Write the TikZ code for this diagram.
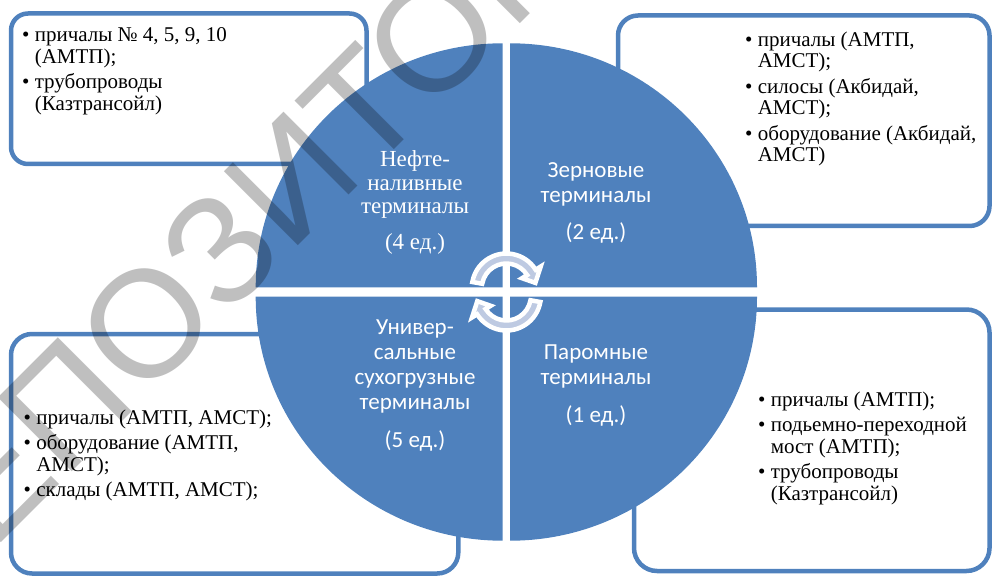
\documentclass[tikz,border=0pt]{standalone}
\usepackage{fontspec}
\setmainfont{Liberation Serif}
\newfontfamily\tnrfont{Liberation Serif}
\newfontfamily\calfont{Carlito}
\newfontfamily\wmfont{Liberation Sans}
\definecolor{qblue}{RGB}{79,129,189}
\definecolor{afill}{RGB}{190,202,226}
\newcommand\bitem{\rule{0pt}{17pt}\textbullet\ }
\newcommand\bcont{\hphantom{\textbullet\ }}
\begin{document}
\begin{tikzpicture}[x=1pt,y=-1pt,
  box/.style={draw=qblue, line width=4.5pt, rectangle, inner sep=0pt, outer sep=0pt},
  quad/.style={fill=qblue},
  carrow/.style={fill=afill, draw=white, line width=4.5pt, line join=miter},
  btext/.style={anchor=north west, align=left, inner sep=0pt, font=\tnrfont\fontsize{21}{21.5}\selectfont},
  qserif/.style={text=white, align=center, inner sep=0pt, font=\tnrfont\fontsize{23}{23.5}\selectfont},
  qsans/.style={text=white, align=center, inner sep=0pt, font=\calfont\fontsize{23}{25}\selectfont},
  wm/.style={text=black, text opacity=0.25, inner sep=0pt, rotate=45, font=\wmfont\fontsize{152}{152}\selectfont}
]
\useasboundingbox (0,0) rectangle (992,577);
% boxes
\node[box, rounded corners=17pt, minimum width=355.5pt, minimum height=150.5pt] (b1) at (188.75,88.75) {};
\node[box, rounded corners=20pt, minimum width=371.5pt, minimum height=210.5pt] (b2) at (803.75,120.75) {};
\node[box, rounded corners=21pt, minimum width=447.3pt, minimum height=239.5pt] (b3) at (234.65,453.75) {};
\node[box, rounded corners=23pt, minimum width=355.5pt, minimum height=261.5pt] (b4) at (811.75,440.25) {};
% quadrants
\coordinate (o) at (506.35,292);
\begin{scope}[shift={(o)}]
  \fill[quad] (-3.65,-4.7) -- ++(-247,0) arc[start angle=180, end angle=270, x radius=247, y radius=244] -- cycle;
  \fill[quad] (3.65,-4.7) -- ++(0,-244) arc[start angle=270, end angle=360, x radius=247, y radius=244] -- cycle;
  \fill[quad] (3.65,4.7) -- ++(247,0) arc[start angle=0, end angle=90, x radius=247, y radius=244] -- cycle;
  \fill[quad] (-3.65,4.7) -- ++(0,244) arc[start angle=90, end angle=180, x radius=247, y radius=244] -- cycle;
  % circular arrows
  \begin{scope}[shift={(0,-4)}]
    \draw[carrow] (190:34.5) arc[start angle=190, end angle=328, radius=34.5]
      -- (328:40.5) -- (350:29.5) -- (328:18.5) -- (328:24.5)
      arc[start angle=328, end angle=190, radius=24.5] -- cycle;
  \end{scope}
  \begin{scope}[shift={(0,4)}]
    \draw[carrow] (10:34.5) arc[start angle=10, end angle=148, radius=34.5]
      -- (148:40.5) -- (170:29.5) -- (148:18.5) -- (148:24.5)
      arc[start angle=148, end angle=10, radius=24.5] -- cycle;
  \end{scope}
\end{scope}
% quadrant texts
\node[qserif] (q1) at (415,202.5) {Нефте-\\наливные\\терминалы\\[12pt](4 ед.)};
\node[qsans] (q2) at (596,202.5) {Зерновые\\терминалы\\[12pt](2 ед.)};
\node[qsans] (q3) at (415,385.5) {Универ-\\сальные\\сухогрузные\\терминалы\\[13pt](5 ед.)};
\node[qsans] (q4) at (596,386) {Паромные\\терминалы\\[13pt](1 ед.)};
% box texts
\node[btext] (t1) at (22,24.5) {\bitem причалы № 4, 5, 9, 10\\\bcont(АМТП);\\[4pt]\bitem трубопроводы\\\bcont(Казтрансойл)};
\node[btext] (t2) at (745,29) {\bitem причалы (АМТП,\\\bcont АМСТ);\\[4pt]\bitem силосы (Акбидай,\\\bcont АМСТ);\\[4pt]\bitem оборудование (Акбидай,\\\bcont АМСТ)};
\node[btext] (t3) at (23.5,407) {\bitem причалы (АМТП, АМСТ);\\[4pt]\bitem оборудование (АМТП,\\\bcont АМСТ);\\[4pt]\bitem склады (АМТП, АМСТ);};
\node[btext] (t4) at (758,389) {\bitem причалы (АМТП);\\[4pt]\bitem подьемно-переходной\\\bcont мост (АМТП);\\[4pt]\bitem трубопроводы\\\bcont(Казтрансойл)};
% watermark
\node[wm] (wmk) at (281,167) {РЕПОЗИТОРИЙ};
\end{tikzpicture}
\end{document}
